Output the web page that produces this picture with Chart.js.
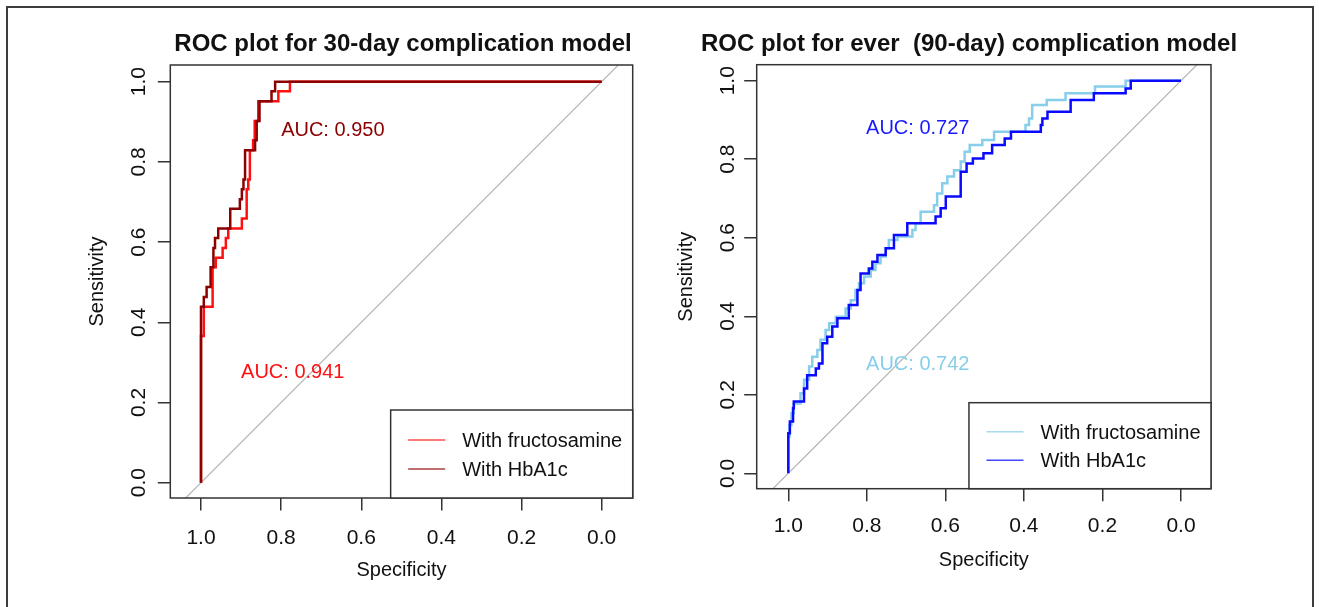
<!DOCTYPE html>
<html>
<head>
<meta charset="utf-8">
<title>ROC plots – 30-day and 90-day complication models</title>
<script src="https://cdn.jsdelivr.net/npm/chart.js@4.4.1/dist/chart.umd.min.js"></script>
<style>
  html, body { margin: 0; padding: 0; background: #fff; }
  body { width: 1319px; height: 607px; position: relative; overflow: hidden; }
  .frame { position: absolute; left: 6px; top: 6px; width: 1308px; height: 660px;
           border: 2px solid #3c3c3c; box-sizing: border-box; }
  canvas { position: absolute; top: 0; }
  #roc30 { left: 0; }
  #roc90 { left: 660px; }
</style>
</head>
<body>
<div class="frame"></div>
<canvas id="roc30" width="660" height="607"></canvas>
<canvas id="roc90" width="659" height="607"></canvas>
<script>
// ---- Data ----
const tickValues = [0, 0.2, 0.4, 0.6, 0.8, 1.0];
const tickLabels = ['0.0', '0.2', '0.4', '0.6', '0.8', '1.0'];
const seriesNames = ['With fructosamine', 'With HbA1c'];

// 30-day model: each step = (specificity, sensitivity after the jump)
const spec30Fructosamine = [1.0, 1.0, 0.993, 0.971, 0.963, 0.946, 0.938, 0.932, 0.898, 0.886, 0.882, 0.878, 0.870, 0.866, 0.857, 0.807, 0.778, 0.0];
const sens30Fructosamine = [0, 0.366, 0.439, 0.537, 0.561, 0.585, 0.610, 0.634, 0.659, 0.732, 0.756, 0.829, 0.854, 0.902, 0.951, 0.976, 1.0, 1.0];
const spec30HbA1c = [1.0, 1.0, 0.993, 0.986, 0.976, 0.969, 0.965, 0.957, 0.927, 0.903, 0.898, 0.894, 0.890, 0.865, 0.861, 0.854, 0.824, 0.815, 0.0];
const sens30HbA1c = [0, 0.439, 0.463, 0.488, 0.537, 0.585, 0.610, 0.634, 0.683, 0.707, 0.732, 0.756, 0.829, 0.854, 0.902, 0.951, 0.976, 1.0, 1.0];
const auc30 = ['0.941', '0.950'];

// ever (90-day) model
const spec90Fructosamine = [1.0, 1.0, 0.997, 0.992, 0.986, 0.969, 0.960, 0.947, 0.939, 0.926, 0.918, 0.905, 0.896, 0.879, 0.854, 0.841, 0.829, 0.820, 0.807, 0.790, 0.778, 0.765, 0.752, 0.744, 0.722, 0.684, 0.676, 0.663, 0.629, 0.621, 0.608, 0.595, 0.578, 0.561, 0.551, 0.538, 0.506, 0.476, 0.396, 0.387, 0.379, 0.342, 0.294, 0.219, 0.141, 0.0];
const sens90Fructosamine = [0, 0.093, 0.123, 0.153, 0.178, 0.204, 0.238, 0.272, 0.297, 0.314, 0.340, 0.365, 0.382, 0.399, 0.420, 0.441, 0.467, 0.484, 0.501, 0.518, 0.535, 0.552, 0.573, 0.594, 0.603, 0.620, 0.637, 0.666, 0.683, 0.713, 0.739, 0.756, 0.772, 0.794, 0.819, 0.836, 0.849, 0.870, 0.887, 0.904, 0.938, 0.951, 0.968, 0.985, 1.0, 1.0];
const spec90HbA1c = [1.0, 1.0, 0.996, 0.988, 0.986, 0.960, 0.952, 0.930, 0.922, 0.913, 0.901, 0.888, 0.875, 0.846, 0.824, 0.816, 0.795, 0.786, 0.773, 0.752, 0.731, 0.697, 0.625, 0.612, 0.599, 0.561, 0.546, 0.530, 0.503, 0.481, 0.449, 0.433, 0.357, 0.353, 0.340, 0.281, 0.222, 0.141, 0.128, 0.0];
const sens90HbA1c = [0, 0.102, 0.132, 0.166, 0.183, 0.216, 0.250, 0.267, 0.280, 0.331, 0.348, 0.374, 0.395, 0.429, 0.467, 0.509, 0.522, 0.539, 0.556, 0.573, 0.607, 0.637, 0.654, 0.675, 0.705, 0.768, 0.789, 0.802, 0.815, 0.836, 0.853, 0.870, 0.887, 0.904, 0.921, 0.951, 0.968, 0.980, 1.0, 1.0];
const auc90 = ['0.742', '0.727'];

// chance (identity) line, clipped by the plot box
const chanceSpec = [1.2, -0.2];

const FONT = '"Liberation Sans", Arial, Helvetica, sans-serif';

const toPoints = (xs, ys) => xs.map((x, i) => ({ x, y: ys[i] }));

// ---- R-style decorations: box, tick labels, title, AUC text, legend ----
const rocDecor = {
  id: 'rocDecor',
  afterDatasetsDraw(chart, args, o) {
    const { ctx, chartArea: a, scales: { x, y } } = chart;
    ctx.save();

    ctx.strokeStyle = '#333';
    ctx.lineWidth = 1.5;
    ctx.strokeRect(a.left, a.top, a.right - a.left, a.bottom - a.top);

    // tick labels
    ctx.fillStyle = '#111';
    ctx.font = `21px ${FONT}`;
    ctx.textAlign = 'center';
    ctx.textBaseline = 'alphabetic';
    x.ticks.forEach(t => {
      const txt = tickLabels[tickValues.indexOf(t.value)];
      ctx.fillText(txt, x.getPixelForValue(t.value), a.bottom + o.xLabelGap);
    });
    y.ticks.forEach(t => {
      const txt = tickLabels[tickValues.indexOf(t.value)];
      ctx.save();
      ctx.translate(a.left - o.yLabelGap, y.getPixelForValue(t.value));
      ctx.rotate(-Math.PI / 2);
      ctx.fillText(txt, 0, 0);
      ctx.restore();
    });

    // title
    ctx.font = `bold 24px ${FONT}`;
    ctx.fillText(o.title, o.titleX, o.titleY);

    // AUC annotations
    ctx.font = `20px ${FONT}`;
    ctx.textAlign = 'left';
    o.auc.forEach(l => {
      ctx.fillStyle = l.color;
      ctx.fillText('AUC: ' + l.value, x.getPixelForValue(l.spec), y.getPixelForValue(l.sens));
    });

    // legend (bottom right, white box)
    const items = chart.data.datasets.filter(d => d.label);
    const textW = Math.max(...items.map(d => ctx.measureText(d.label).width));
    const boxW = 71.5 + textW + 10.5;
    const left = a.right - boxW;
    const top = a.bottom - o.legendH;
    ctx.fillStyle = '#fff';
    ctx.fillRect(left, top, boxW, o.legendH);
    ctx.strokeStyle = '#333';
    ctx.lineWidth = 1.5;
    ctx.strokeRect(left, top, boxW, o.legendH);
    items.forEach((d, i) => {
      const ly = top + o.legendRow0 + i * o.legendStep;
      ctx.save();
      ctx.globalAlpha = 0.75;
      ctx.strokeStyle = d.borderColor;
      ctx.lineWidth = 1.6;
      ctx.beginPath();
      ctx.moveTo(left + 17.5, ly);
      ctx.lineTo(left + 54.5, ly);
      ctx.stroke();
      ctx.restore();
      ctx.fillStyle = '#111';
      ctx.fillText(d.label, left + 71.5, ly + 7.2);
    });

    ctx.restore();
  }
};

function rocChart(canvasId, cfg) {
  const ctx = document.getElementById(canvasId)?.getContext('2d');
  if (!ctx) return;
  const { w, h, area } = cfg;

  return new Chart(ctx, {
    type: 'line',
    data: {
      datasets: [
        {
          label: seriesNames[0],
          data: toPoints(cfg.specF, cfg.sensF),
          borderColor: cfg.colors[0],
          borderWidth: 2.5,
          stepped: 'before',
          tension: 0,
          pointRadius: 0,
          fill: false,
          order: 1,
        },
        {
          label: seriesNames[1],
          data: toPoints(cfg.specH, cfg.sensH),
          borderColor: cfg.colors[1],
          borderWidth: 2.5,
          stepped: 'before',
          tension: 0,
          pointRadius: 0,
          fill: false,
          order: 0,
        },
        {
          data: toPoints(chanceSpec, chanceSpec.map(s => 1 - s)),
          borderColor: '#b4b4b4',
          borderWidth: 1.2,
          pointRadius: 0,
          fill: false,
          order: 2,
        },
      ],
    },
    options: {
      responsive: false,
      animation: false,
      events: [],
      layout: { padding: { left: 0, top: area.top, right: w - area.right, bottom: 0 } },
      plugins: {
        legend: { display: false },
        tooltip: { enabled: false },
        title: { display: false },
        rocDecor: cfg.decor,
      },
      scales: {
        x: {
          type: 'linear',
          reverse: true,
          min: cfg.xMin,
          max: cfg.xMax,
          afterFit: s => { s.height = h - area.bottom; },
          afterBuildTicks: s => { s.ticks = tickValues.map(v => ({ value: v })); },
          ticks: { display: false },
          grid: { drawOnChartArea: false, drawTicks: true, tickLength: 12.5, color: '#333', lineWidth: 1.5 },
          border: { display: false },
          title: {
            display: true,
            text: 'Specificity',
            color: '#111',
            font: { family: FONT, size: 20 },
            padding: { top: 0, bottom: cfg.xTitlePad },
          },
        },
        y: {
          type: 'linear',
          min: cfg.yMin,
          max: cfg.yMax,
          afterFit: s => { s.width = area.left; },
          afterBuildTicks: s => { s.ticks = tickValues.map(v => ({ value: v })); },
          ticks: { display: false },
          grid: { drawOnChartArea: false, drawTicks: true, tickLength: 12.5, color: '#333', lineWidth: 1.5 },
          border: { display: false },
          title: {
            display: true,
            text: 'Sensitivity',
            color: '#111',
            font: { family: FONT, size: 20 },
            padding: { top: cfg.yTitlePad, bottom: 0 },
          },
        },
      },
    },
    plugins: [rocDecor],
  });
}

rocChart('roc30', {
  w: 660, h: 607,
  area: { left: 170.3, top: 65, right: 632.7, bottom: 498 },
  xMin: -0.0774, xMax: 1.0766, yMin: -0.0382, yMax: 1.0416,
  specF: spec30Fructosamine, sensF: sens30Fructosamine,
  specH: spec30HbA1c, sensH: sens30HbA1c,
  colors: ['#ff1010', '#8b0000'],
  xTitlePad: 25,
  yTitlePad: 85,
  decor: {
    title: 'ROC plot for 30-day complication model',
    titleX: 403, titleY: 51,
    xLabelGap: 46, yLabelGap: 25.3,
    legendH: 88, legendRow0: 30, legendStep: 29,
    auc: [
      { value: auc30[1], color: '#8b0000', spec: 0.800, sens: 0.865 },
      { value: auc30[0], color: '#ff1010', spec: 0.900, sens: 0.262 },
    ],
  },
});

rocChart('roc90', {
  w: 659, h: 607,
  area: { left: 96.7, top: 64.7, right: 551, bottom: 488.7 },
  xMin: -0.0764, xMax: 1.0805, yMin: -0.0392, yMax: 1.0408,
  specF: spec90Fructosamine, sensF: sens90Fructosamine,
  specH: spec90HbA1c, sensH: sens90HbA1c,
  colors: ['#87ceeb', '#0a0aff'],
  xTitlePad: 35,
  yTitlePad: 14.3,
  decor: {
    title: 'ROC plot for ever  (90-day) complication model',
    titleX: 309, titleY: 51,
    xLabelGap: 43.5, yLabelGap: 23,
    legendH: 86, legendRow0: 29, legendStep: 28.5,
    auc: [
      { value: auc90[1], color: '#1a1aff', spec: 0.802, sens: 0.865 },
      { value: auc90[0], color: '#87ceeb', spec: 0.802, sens: 0.262 },
    ],
  },
});
</script>
</body>
</html>
